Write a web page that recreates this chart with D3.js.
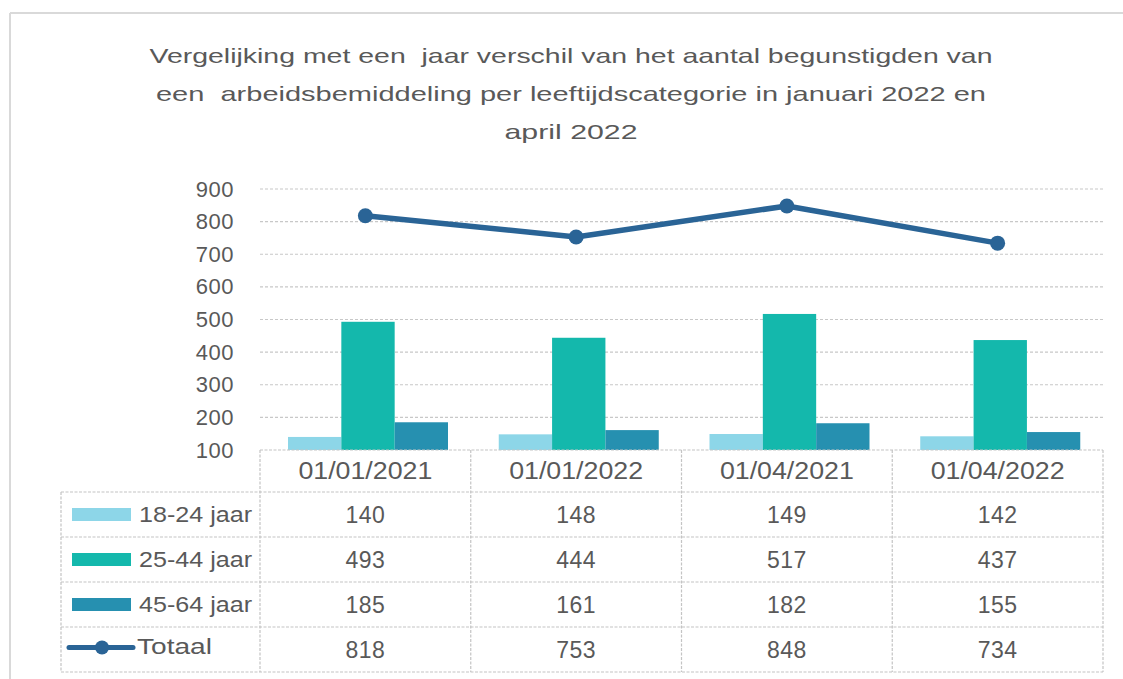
<!DOCTYPE html>
<html>
<head>
<meta charset="utf-8">
<script src="https://cdn.jsdelivr.net/npm/d3@7"></script>
<style>
  html, body { margin: 0; padding: 0; background: #fff; }
  svg { display: block; font-family: "Liberation Sans", Arial, sans-serif; }
</style>
</head>
<body>
<div id="chart"></div>
<script>
// data
const categories = ['01/01/2021', '01/01/2022', '01/04/2021', '01/04/2022'];
const seriesNames = ['18-24 jaar', '25-44 jaar', '45-64 jaar'];
const age18to24 = [140, 148, 149, 142];
const age25to44 = [493, 444, 517, 437];
const age45to64 = [185, 161, 182, 155];
const totaal = [818, 753, 848, 734];
const yTicks = [100, 200, 300, 400, 500, 600, 700, 800, 900];
const titleLines = [
  'Vergelijking met een  jaar verschil van het aantal begunstigden van',
  'een  arbeidsbemiddeling per leeftijdscategorie in januari 2022 en',
  'april 2022'
];

const barSeries = [age18to24, age25to44, age45to64];
const colors = ['#8dd6e8', '#14b8ac', '#2690b0'];
const lineColor = '#2a6496';
const textColor = '#595959';
const gridColor = '#c8c8c8';

const W = 1123, H = 679;
const svg = d3.select('#chart').append('svg')
  .attr('width', W).attr('height', H);

// outer frame (only top & left visible)
svg.append('line').attr('x1', 10).attr('x2', W).attr('y1', 13).attr('y2', 13)
  .attr('stroke', '#d9d9d9').attr('stroke-width', 2);
svg.append('line').attr('x1', 10).attr('x2', 10).attr('y1', 13).attr('y2', H)
  .attr('stroke', '#d9d9d9').attr('stroke-width', 2);

// title
const titleWidths = [843, 830, 133];
svg.append('g').selectAll('text')
  .data(titleLines)
  .join('text')
  .attr('x', 571)
  .attr('y', (d, i) => 63 + i * 38)
  .attr('text-anchor', 'middle')
  .attr('textLength', (d, i) => titleWidths[i])
  .attr('lengthAdjust', 'spacingAndGlyphs')
  .style('white-space', 'pre')
  .style('font-size', '21px')
  .style('fill', textColor)
  .text(d => d);

// scales
const x = d3.scaleBand().domain(categories).range([260, 1103]);
const xSub = d3.scaleBand().domain(seriesNames).range([28, 188]);
const y = d3.scaleLinear().domain([100, 900]).range([450, 189]);

// gridlines
svg.append('g').selectAll('line')
  .data(yTicks.slice(1))
  .join('line')
  .attr('x1', 260).attr('x2', 1103)
  .attr('y1', d => y(d)).attr('y2', d => y(d))
  .attr('stroke', gridColor).attr('stroke-width', 1.2)
  .attr('stroke-dasharray', '3,2');

// y axis labels
const yAxis = d3.axisLeft(y).tickValues(yTicks).tickSize(0).tickPadding(0);
const yG = svg.append('g').attr('transform', 'translate(234,0)').call(yAxis);
yG.select('.domain').remove();
yG.selectAll('text')
  .style('font-size', '22px')
  .style('font-family', '"Liberation Sans", Arial, sans-serif')
  .style('letter-spacing', '0.5px')
  .style('fill', textColor);

// bars
const barData = [];
categories.forEach((c, ci) => {
  seriesNames.forEach((s, si) => {
    barData.push({ cat: c, series: s, value: barSeries[si][ci], color: colors[si] });
  });
});
svg.append('g').selectAll('rect')
  .data(barData)
  .join('rect')
  .attr('x', d => x(d.cat) + xSub(d.series))
  .attr('width', xSub.bandwidth())
  .attr('y', d => y(d.value))
  .attr('height', d => y(100) - y(d.value))
  .attr('fill', d => d.color);

// total line
const lineGen = d3.line()
  .x((d, i) => x(categories[i]) + x.bandwidth() / 2)
  .y(d => y(d));
svg.append('path')
  .datum(totaal)
  .attr('d', lineGen)
  .attr('fill', 'none')
  .attr('stroke', lineColor)
  .attr('stroke-width', 5.5)
  .attr('stroke-linejoin', 'round');
svg.append('g').selectAll('circle')
  .data(totaal)
  .join('circle')
  .attr('cx', (d, i) => x(categories[i]) + x.bandwidth() / 2)
  .attr('cy', d => y(d))
  .attr('r', 7.5)
  .attr('fill', lineColor);

// data table
const rowLabels = seriesNames.concat(['Totaal']);
const rowValues = [age18to24, age25to44, age45to64, totaal];
const rowY = d3.scaleBand().domain(rowLabels).range([492, 672]);
const tableLeft = 61;
const border = { stroke: '#c4c4c4', dash: '3,1.5', w: 1.2 };
const tg = svg.append('g');

function hline(x1, x2, yy) {
  tg.append('line').attr('x1', x1).attr('x2', x2).attr('y1', yy).attr('y2', yy)
    .attr('stroke', border.stroke).attr('stroke-width', border.w)
    .attr('stroke-dasharray', border.dash);
}
function vline(xx, y1, y2) {
  tg.append('line').attr('x1', xx).attr('x2', xx).attr('y1', y1).attr('y2', y2)
    .attr('stroke', border.stroke).attr('stroke-width', border.w)
    .attr('stroke-dasharray', border.dash);
}

hline(260, 1103, 450);
rowLabels.forEach(r => hline(tableLeft, 1103, rowY(r)));
hline(tableLeft, 1103, 672);
vline(tableLeft, 492, 672);
categories.forEach(c => vline(x(c), 450, 672));
vline(1103, 450, 672);

// header
tg.selectAll('text.hdr')
  .data(categories)
  .join('text')
  .attr('class', 'hdr')
  .attr('x', d => x(d) + x.bandwidth() / 2)
  .attr('y', 471)
  .attr('dy', '0.35em')
  .attr('text-anchor', 'middle')
  .attr('textLength', 134)
  .attr('lengthAdjust', 'spacingAndGlyphs')
  .style('font-size', '23px')
  .style('fill', textColor)
  .text(d => d);

// values
rowLabels.forEach((r, ri) => {
  tg.append('g').selectAll('text')
    .data(rowValues[ri])
    .join('text')
    .attr('x', (d, i) => x(categories[i]) + x.bandwidth() / 2)
    .attr('y', rowY(r) + rowY.bandwidth() / 2)
    .attr('dy', '0.35em')
    .attr('text-anchor', 'middle')
    .style('font-size', '23px')
    .style('letter-spacing', '0.5px')
    .style('fill', textColor)
    .text(d => d);
});

// legend keys in table
seriesNames.forEach((s, si) => {
  const cy = rowY(s) + rowY.bandwidth() / 2;
  tg.append('rect')
    .attr('x', 72).attr('y', cy - 6.5)
    .attr('width', 59).attr('height', 13)
    .attr('fill', colors[si]);
});
const ty = rowY('Totaal') + rowY.bandwidth() / 2 - 2;
tg.append('line').attr('x1', 69).attr('x2', 133).attr('y1', ty).attr('y2', ty)
  .attr('stroke', lineColor).attr('stroke-width', 5).attr('stroke-linecap', 'round');
tg.append('circle').attr('cx', 102).attr('cy', ty).attr('r', 7).attr('fill', lineColor);

tg.selectAll('text.lbl')
  .data(rowLabels)
  .join('text')
  .attr('class', 'lbl')
  .attr('x', (d, i) => i === 3 ? 137 : 139)
  .attr('y', (d, i) => rowY(d) + rowY.bandwidth() / 2 + (i === 3 ? -3 : 0))
  .attr('dy', '0.35em')
  .attr('textLength', (d, i) => i === 3 ? 75 : 113)
  .attr('lengthAdjust', 'spacingAndGlyphs')
  .style('font-size', '22px')
  .style('fill', textColor)
  .text(d => d);
</script>
</body>
</html>
